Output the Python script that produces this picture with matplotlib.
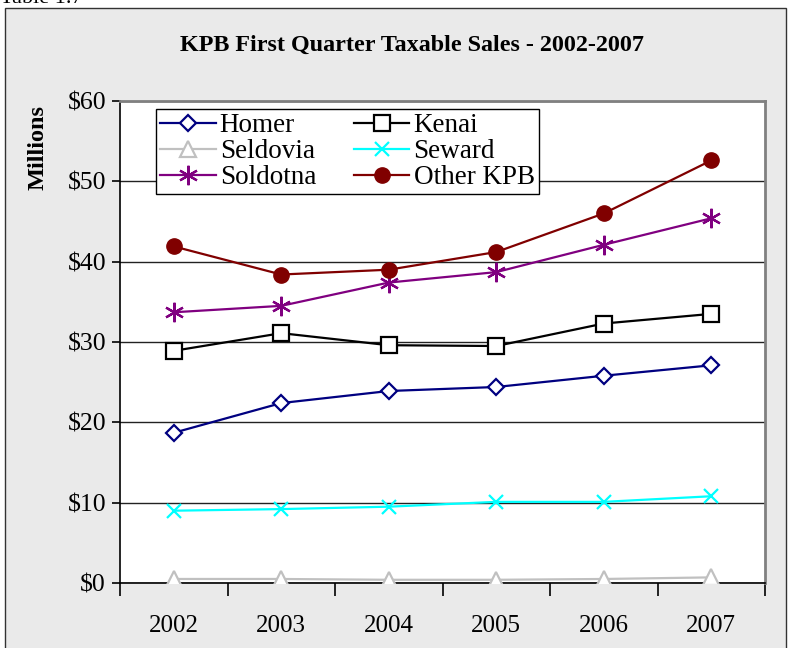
import matplotlib
matplotlib.use("Agg")
import matplotlib.pyplot as plt
from matplotlib.patches import Rectangle
from matplotlib.ticker import FixedLocator, FuncFormatter

plt.rcParams['font.family'] = ['Liberation Serif', 'DejaVu Serif']

years = ['2002', '2003', '2004', '2005', '2006', '2007']
homer = [18.7, 22.4, 23.9, 24.4, 25.8, 27.1]
kenai = [28.9, 31.1, 29.6, 29.5, 32.3, 33.5]
seldovia = [0.5, 0.5, 0.4, 0.4, 0.5, 0.7]
seward = [9.0, 9.2, 9.5, 10.1, 10.1, 10.8]
soldotna = [33.7, 34.5, 37.4, 38.7, 42.1, 45.4]
other_kpb = [41.9, 38.4, 39.0, 41.2, 46.0, 52.6]
y_ticks = [0, 10, 20, 30, 40, 50, 60]

W, H = 789, 648
fig = plt.figure(figsize=(W / 100, H / 100), dpi=100)
fig.patch.set_facecolor('white')

# outer chart frame
frame = Rectangle((5 / W, -0.05), (786 - 5) / W, 1.05 - 8 / H,
                  transform=fig.transFigure, facecolor='#EAEAEA',
                  edgecolor='#333333', linewidth=1.0, zorder=-10)
fig.patches.append(frame)

fig.text(0.0, 1 - 3 / H, 'Table 1.7', fontsize=16, va='baseline', ha='left')

ax = fig.add_axes([120 / W, (H - 583) / H, (765 - 120) / W, (583 - 101) / H])
ax.set_zorder(1)
ax.set_facecolor('white')

x = list(range(len(years)))
lw = 1.6
ax.plot(x, homer, color='#000080', lw=lw, marker='D', ms=8, mfc='white', mec='#000080', mew=1.6, label='Homer', zorder=3)
ax.plot(x, seldovia, color='#C0C0C0', lw=lw, marker='^', ms=11, mfc='white', mec='#C0C0C0', mew=1.6, label='Seldovia', zorder=3)
ax.plot(x, soldotna, color='#800080', lw=lw, marker=(6, 2, 0), ms=14, mec='#800080', mew=1.6, label='Soldotna', zorder=3)
ax.plot(x, kenai, color='black', lw=lw, marker='s', ms=11, mfc='white', mec='black', mew=1.6, label='Kenai', zorder=3)
ax.plot(x, seward, color='#00FFFF', lw=lw, marker='x', ms=10, mec='#00FFFF', mew=1.6, label='Seward', zorder=3)
ax.plot(x, other_kpb, color='#800000', lw=lw, marker='o', ms=11, mfc='#800000', mec='#800000', label='Other KPB', zorder=3)

ax.set_xlim(-0.5, len(years) - 0.5)
ax.set_ylim(0, 60)
ax.set_xticks(x)
ax.set_xticklabels(years, fontsize=18)
ax.xaxis.set_minor_locator(FixedLocator([i - 0.5 for i in range(len(years) + 1)]))
ax.tick_params(axis='x', which='major', length=0, pad=23)
ax.tick_params(axis='x', which='minor', length=9, width=1.2, direction='out', color='black')
ax.set_yticks(y_ticks)
ax.yaxis.set_major_formatter(FuncFormatter(lambda v, p: f'${v:.0f}'))
ax.tick_params(axis='y', which='major', length=6, width=1.2, direction='out', labelsize=18.5, pad=4)

ax.grid(axis='y', color='#222222', linewidth=1.0, zorder=1)
ax.set_axisbelow(True)

for s in ['top', 'right']:
    ax.spines[s].set_color('#808080')
    ax.spines[s].set_linewidth(2.0)
for s in ['left', 'bottom']:
    ax.spines[s].set_color('black')
    ax.spines[s].set_linewidth(1.2)

fig.text(38 / W, 1 - 148 / H, 'Millions', rotation=90, fontsize=17.5, fontweight='bold',
         ha='center', va='center')
fig.text(412 / W, 1 - 45 / H, 'KPB First Quarter Taxable Sales - 2002-2007', fontsize=17.4,
         fontweight='bold', ha='center', va='center')

leg = ax.legend(ncol=2, loc='upper left', bbox_to_anchor=((156 - 120) / 645, (583 - 109) / 482),
                borderaxespad=0, fontsize=19.5, frameon=True, fancybox=False,
                labelspacing=0.04, handlelength=2.05, handletextpad=0.15, columnspacing=1.4,
                borderpad=0.15)
leg.get_frame().set_edgecolor('black')
leg.get_frame().set_linewidth(1.0)
leg.get_frame().set_alpha(1)

fig.savefig('out.png', dpi=100)
